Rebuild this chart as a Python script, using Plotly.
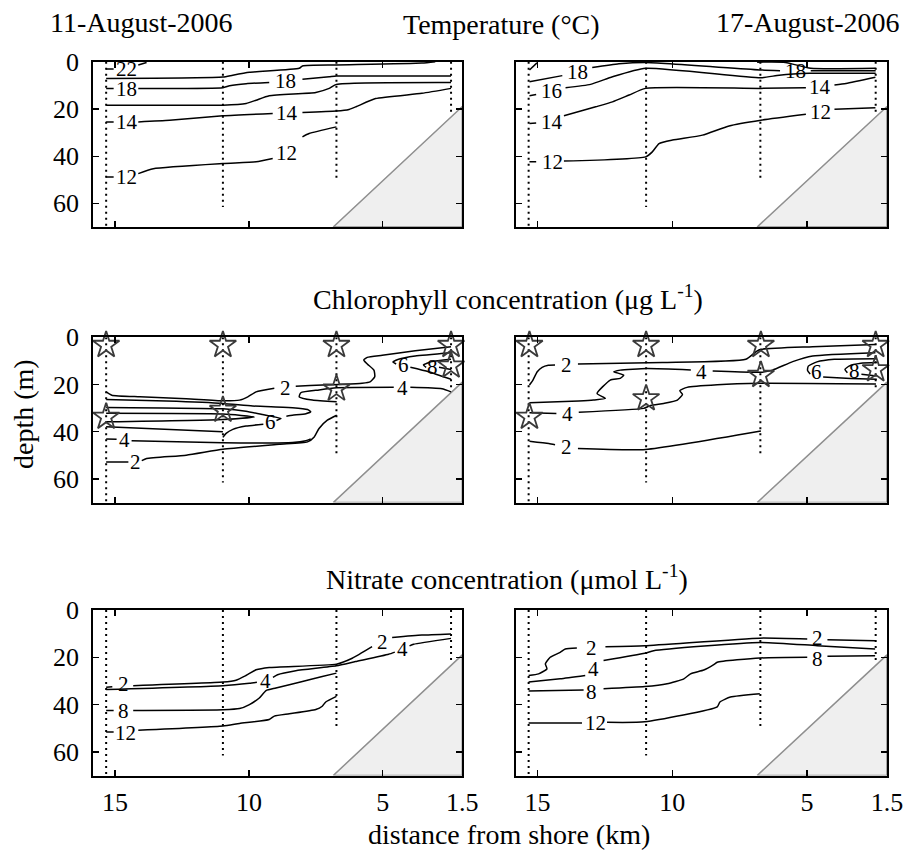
import plotly.graph_objects as go

# ---------------- axes / common data ----------------
XL, XR = 15.81, 2.03            # plotted km range (right edge is labelled 1.5)
x_tickvals = [15, 10, 5, XR]
x_ticktext = ["15", "10", "5", "1.5"]
y_tickvals = [0, 20, 40, 60]
y_ticktext = ["0", "20", "40", "60"]

stations = [15.33, 10.97, 6.73, 2.45]
station_max_depth = [71.5, 61.5, 49.5, 22.0]
bottom_km = [6.85, XR, XR, 6.85]
bottom_depth = [70, 19, 70, 70]

# ---------------- Temperature 11 Aug ----------------
t11_22_km = [15.33, 15.05, None, 14.13, 13.82]
t11_22_d = [3.1, 3.1, None, 1.4, 0.3]
t11_20_km = [15.33, 10.97, 10.6, 9.98, 8.12, 8.0, 6.73, 3.54, 3.04]
t11_20_d = [7.1, 6.5, 5.7, 4.5, 2.8, 1.8, 1.4, 0.6, 0.0]
t11_18_km = [15.33, 15.05, None, 14.13, 10.97, 10.72, 10.1, 9.24, None, 8.0, 7.0, 6.73, 2.45]
t11_18_d = [11.3, 11.3, None, 11.3, 11.0, 10.2, 9.3, 8.8, None, 7.4, 6.4, 6.1, 6.1]
t11_16_km = [15.33, 10.97, 10.1, 9.73, 9.24, 7.5, 7.0, 6.73, 2.45]
t11_16_d = [18.4, 18.4, 17.7, 16.3, 14.4, 13.0, 11.3, 9.6, 8.8]
t11_14_km = [15.33, 15.05, None, 14.13, 12.96, 10.97, 9.11, None, 8.0, 6.73, 6.26, 6.0, 5.27, 3.54, 2.45]
t11_14_d = [25.5, 25.5, None, 25.5, 24.8, 22.9, 21.9, None, 21.5, 20.9, 20.2, 19.1, 15.6, 13.4, 11.3]
t11_12_km = [15.33, 15.05, None, 14.13, 13.57, 10.97, 9.73, 9.11, None, 8.0, 7.75, 6.73]
t11_12_d = [48.8, 48.8, None, 47.4, 45.3, 43.1, 42.4, 41.0, None, 31.8, 30.4, 27.6]
t11_lab_km = [14.57, 14.57, 8.62, 14.57, 8.58, 14.57, 8.6]
t11_lab_d = [3.3, 11.6, 8.2, 25.5, 21.7, 48.8, 38.6]
t11_lab_t = ["22", "18", "18", "14", "14", "12", "12"]

# ---------------- Temperature 17 Aug ----------------
t17_20a_km = [15.3, 15.02]
t17_20a_d = [3.5, 0.5]
t17_20b_km = [6.85, 5.8, 4.86, 2.45]
t17_20b_d = [0.2, 0.3, 2.8, 2.8]
t17_18_km = [15.3, 14.08, None, 12.97, 11.98, 10.99, 6.71, 6.0, None, 4.86, 2.45]
t17_18_d = [8.5, 5.9, None, 2.5, 0.9, 0.3, 3.5, 3.8, None, 3.8, 3.8]
t17_16_km = [15.3, 15.05, None, 13.96, 13.03, 12.22, 10.99, 6.71, 6.03, 4.91, 2.45]
t17_16_d = [14.4, 13.9, None, 11.0, 9.6, 6.4, 2.8, 6.8, 5.7, 4.9, 4.9]
t17_14_km = [15.3, 15.05, None, 14.02, 12.84, 12.22, 11.6, 10.99, 6.71, 5.04, None, 3.98, 3.55, 2.46]
t17_14_d = [26.2, 26.0, None, 22.9, 19.1, 17.0, 14.1, 11.3, 11.3, 11.0, None, 9.9, 9.2, 6.6]
t17_12_km = [15.3, 15.05, None, 14.02, 10.99, 10.74, 10.49, 9.99, 8.88, 7.89, 6.71, 5.04, None, 3.98, 2.46]
t17_12_d = [42.4, 42.4, None, 42.1, 40.3, 38.2, 34.7, 33.2, 31.1, 27.2, 24.8, 22.3, None, 20.1, 19.5]
t17_lab_km = [13.5, 5.42, 14.5, 14.45, 4.5, 14.45, 4.5]
t17_lab_d = [4.3, 4.0, 12.3, 25.5, 10.6, 42.4, 21.5]
t17_lab_t = ["18", "18", "16", "14", "14", "12", "12"]

# ---------------- Chlorophyll 11 Aug ----------------
c11_2a_km = [15.33, 15.12, 14.07, 12.34, 10.97, 10.35, 10.04, 9.73, 9.05, None, 8.25, 5.77, 5.46,
             5.30, 5.33, 5.58, 5.71, 5.58, 5.02, 3.79, 2.45]
c11_2a_d = [23.1, 24.5, 25.2, 26.0, 26.9, 26.6, 25.2, 23.1, 21.6, None, 20.7, 19.5, 18.8,
            16.7, 13.9, 11.3, 9.6, 8.5, 7.6, 5.7, 4.0]
c11_4a_km = [15.33, 13.08, 10.97, 9.86, 8.37, 7.81, 7.69, 7.87, 8.37, 8.6]
c11_4a_d = [26.3, 27.0, 28.0, 29.1, 29.8, 30.6, 31.5, 32.4, 33.0, 33.4]
c11_6a_km = [15.33, 10.97, 10.11, 9.49, 8.80, 8.97, None, 9.46, 10.11, 10.60, 10.85, 10.97]
c11_6a_d = [29.7, 30.3, 31.3, 32.7, 34.4, 35.2, None, 36.8, 37.6, 39.0, 40.7, 42.4]
c11_8_km = [15.33, 10.97, 9.80, 10.97, 15.33]
c11_8_d = [32.2, 32.5, 33.7, 34.8, 35.8]
c11_6b_km = [15.33, 10.97]
c11_6b_d = [37.9, 40.0]
c11_4b_km = [15.33, 14.94, None, 14.38, 10.97, 8.37, 7.87, 7.69]
c11_4b_d = [43.1, 43.2, None, 43.8, 44.7, 44.6, 43.8, 43.0]
c11_2b_km = [15.33, 14.5, None, 14.0, 13.82, 12.34, 10.97, 8.87, 7.81, 7.56, 7.38, 7.07, 6.72]
c11_2b_d = [52.8, 52.8, None, 52.2, 51.3, 49.9, 47.4, 45.3, 44.3, 42.2, 38.6, 35.1, 33.0]
c11_4c_km = [6.72, 7.63, 8.12, 8.06, 7.38, 6.72, 4.59, None, 3.97, 2.79, 2.45]
c11_4c_d = [27.3, 26.6, 25.2, 23.5, 22.3, 21.4, 21.2, None, 21.2, 21.8, 23.1]
c11_6c_km = [2.45, 3.79, 4.41, 4.62, 4.50, None, 3.97, 3.29, 2.45]
c11_6c_d = [6.5, 7.9, 9.3, 10.5, 11.3, None, 12.7, 14.6, 17.8]
c11_8c_km = [2.45, 3.17, 3.48, 3.38, None, 2.90, 2.45]
c11_8c_d = [9.3, 10.3, 11.7, 12.7, None, 12.7, 13.6]
c11_lab_km = [8.64, 9.21, 14.66, 14.25, 4.28, 4.24, 3.15]
c11_lab_d = [21.4, 35.8, 43.6, 52.8, 21.4, 11.9, 12.5]
c11_lab_t = ["2", "6", "4", "2", "4", "6", "8"]
c11_star_km = [15.33, 10.97, 6.73, 2.45, 15.33, 10.97, 6.73, 2.45]
c11_star_d = [3.3, 3.3, 3.3, 3.3, 33.7, 30.8, 21.8, 12.0]

# ---------------- Chlorophyll 17 Aug ----------------
c17_2a_km = [15.3, 15.17, 15.01, 14.83, 14.6, 14.35, None, 13.5, 10.37, 7.27, 6.89, 6.71, 4.79, 2.46]
c17_2a_d = [20.2, 18.1, 14.6, 12.7, 11.8, 11.7, None, 11.3, 10.7, 9.3, 6.1, 5.1, 4.0, 3.0]
c17_4a_km = [15.3, 13.47, 12.92, 12.48, 12.79, 12.30, 11.93, 11.80, 12.17, 11.93, 10.94, 9.31, None,
             8.50, 6.71, 6.28, 5.53, 4.79, 2.46]
c17_4a_d = [27.7, 27.0, 26.6, 25.9, 23.8, 18.1, 17.4, 16.0, 14.6, 13.9, 13.2, 13.8, None,
            14.3, 14.8, 13.9, 10.3, 7.9, 6.5]
c17_4b_km = [15.3, 14.3, None, 13.47, 11.06, 10.81, 10.32, 9.81, 9.62, 9.72, 9.45, 8.33, 6.72, 2.44]
c17_4b_d = [32.0, 32.3, None, 31.7, 30.1, 28.9, 28.0, 26.6, 24.2, 22.6, 21.2, 20.1, 19.5, 19.8]
c17_6_km = [2.41, 3.99, 4.63, 4.95, 4.98, 4.88, None, 4.40, 3.38, 2.41]
c17_6_d = [9.05, 9.3, 10.4, 12.2, 14.0, 15.6, None, 16.8, 17.4, 17.8]
c17_8_km = [2.41, 3.0, 3.44, 3.59, 3.50, None, 2.98, 2.41]
c17_8_d = [10.7, 11.0, 12.2, 13.6, 15.0, None, 15.7, 16.4]
c17_2b_km = [15.3, 14.58, 14.35, None, 13.5, 10.99, 6.71]
c17_2b_d = [44.0, 45.0, 45.5, None, 47.1, 47.5, 39.7]
c17_lab_km = [13.93, 8.9, 13.9, 4.64, 3.25, 13.93]
c17_lab_d = [11.6, 14.6, 32.4, 14.9, 14.1, 46.4]
c17_lab_t = ["2", "4", "4", "6", "8", "2"]
c17_star_km = [15.3, 10.97, 6.71, 2.45, 15.3, 10.97, 6.71, 2.45]
c17_star_d = [3.3, 3.3, 3.3, 3.3, 33.7, 25.9, 16.0, 13.6]

# ---------------- Nitrate 11 Aug ----------------
n11_2_km = [15.33, 15.1, None, 14.32, 10.97, 10.48, 10.11, 9.73, 9.24, 6.73, 6.14, 5.40, None,
            4.65, 3.54, 2.45]
n11_2_d = [32.7, 32.5, None, 32.0, 30.5, 29.7, 27.7, 25.3, 24.3, 22.9, 20.4, 15.5, None,
           11.6, 10.6, 10.1]
n11_4_km = [15.33, 10.97, 9.98, 9.7, None, 9.1, 8.93, 8.25, 6.73, 6.02, 4.78, 4.55, None, 4.0, 3.85, 2.45]
n11_4_d = [33.6, 32.0, 31.0, 30.6, None, 28.5, 27.4, 25.7, 23.6, 21.8, 18.7, 17.8, None, 15.2, 14.5, 12.0]
n11_8_km = [15.33, 15.05, None, 14.32, 10.97, 10.35, 9.98, 9.61, 9.36, 8.99, 8.0, 7.26, 6.73]
n11_8_d = [42.5, 42.5, None, 42.5, 42.2, 41.7, 40.0, 37.2, 34.1, 33.0, 30.2, 28.1, 26.7]
n11_12_km = [15.33, 15.05, None, 14.13, 10.97, 10.35, 9.24, 9.05, 8.49, 7.50, 7.26, 7.13, 6.73]
n11_12_d = [51.6, 51.6, None, 50.9, 49.1, 48.0, 46.3, 44.9, 43.9, 42.1, 40.7, 38.9, 36.5]
n11_lab_km = [14.69, 5.02, 9.39, 4.28, 14.69, 14.6]
n11_lab_d = [31.5, 13.6, 29.9, 16.5, 42.8, 51.9]
n11_lab_t = ["2", "2", "4", "4", "8", "12"]

# ---------------- Nitrate 17 Aug ----------------
n17_2_km = [15.33, 14.96, 14.65, 14.71, 14.53, 14.16, 13.97, 13.54, None, 12.48, 11.02, 6.75, 4.99, None,
            4.24, 2.47]
n17_2_d = [27.7, 27.0, 24.9, 22.8, 20.0, 17.9, 16.5, 16.1, None, 15.5, 15.1, 11.9, 12.3, None,
           12.6, 13.0]
n17_4_km = [15.33, 14.16, 13.23, None, 12.55, 11.02, 10.69, 6.75, 4.62, 2.47]
n17_4_d = [30.5, 29.1, 27.7, None, 21.4, 18.3, 17.2, 13.7, 15.1, 16.5]
n17_8_km = [15.33, 13.29, None, 12.55, 11.02, 10.19, 9.57, 9.32, 8.83, 8.46, 8.33, 6.75, 4.99, None,
            4.24, 2.47]
n17_8_d = [34.3, 33.8, None, 33.3, 32.4, 31.2, 29.1, 27.0, 25.4, 23.1, 22.1, 20.3, 20.0, None,
           19.6, 19.3]
n17_12_km = [15.33, 13.35, None, 12.42, 11.02, 8.33, 8.23, 7.84, 6.75]
n17_12_d = [47.8, 47.8, None, 47.5, 47.3, 41.0, 38.9, 36.8, 35.4]
n17_lab_km = [12.98, 4.62, 12.94, 12.98, 4.62, 12.86]
n17_lab_d = [16.1, 11.9, 25.0, 34.5, 20.6, 47.8]
n17_lab_t = ["2", "2", "4", "8", "8", "12"]

# ---------------- figure ----------------
W, H = 908, 854
FONT = "Liberation Serif, Times New Roman, serif"
col_px = [(93.3, 462.3), (515.7, 887.0)]
row_px = [(61.7, 227.0), (337.3, 502.6), (610.0, 775.5)]

panels = [
    dict(lines=[(t11_22_km, t11_22_d), (t11_20_km, t11_20_d), (t11_18_km, t11_18_d),
                (t11_16_km, t11_16_d), (t11_14_km, t11_14_d), (t11_12_km, t11_12_d)],
         labels=(t11_lab_km, t11_lab_d, t11_lab_t), stars=None),
    dict(lines=[(t17_20a_km, t17_20a_d), (t17_20b_km, t17_20b_d), (t17_18_km, t17_18_d),
                (t17_16_km, t17_16_d), (t17_14_km, t17_14_d), (t17_12_km, t17_12_d)],
         labels=(t17_lab_km, t17_lab_d, t17_lab_t), stars=None),
    dict(lines=[(c11_2a_km, c11_2a_d), (c11_4a_km, c11_4a_d), (c11_6a_km, c11_6a_d),
                (c11_8_km, c11_8_d), (c11_6b_km, c11_6b_d), (c11_4b_km, c11_4b_d),
                (c11_2b_km, c11_2b_d), (c11_4c_km, c11_4c_d), (c11_6c_km, c11_6c_d),
                (c11_8c_km, c11_8c_d)],
         labels=(c11_lab_km, c11_lab_d, c11_lab_t), stars=(c11_star_km, c11_star_d)),
    dict(lines=[(c17_2a_km, c17_2a_d), (c17_4a_km, c17_4a_d), (c17_4b_km, c17_4b_d),
                (c17_6_km, c17_6_d), (c17_8_km, c17_8_d), (c17_2b_km, c17_2b_d)],
         labels=(c17_lab_km, c17_lab_d, c17_lab_t), stars=(c17_star_km, c17_star_d)),
    dict(lines=[(n11_2_km, n11_2_d), (n11_4_km, n11_4_d), (n11_8_km, n11_8_d), (n11_12_km, n11_12_d)],
         labels=(n11_lab_km, n11_lab_d, n11_lab_t), stars=None),
    dict(lines=[(n17_2_km, n17_2_d), (n17_4_km, n17_4_d), (n17_8_km, n17_8_d), (n17_12_km, n17_12_d)],
         labels=(n17_lab_km, n17_lab_d, n17_lab_t), stars=None),
]

fig = go.Figure()
annotations = []
layout_axes = {}

for i, p in enumerate(panels):
    n = i + 1
    r, c = divmod(i, 2)
    xs = "x" if n == 1 else f"x{n}"
    ys = "y" if n == 1 else f"y{n}"
    xa = "xaxis" if n == 1 else f"xaxis{n}"
    ya = "yaxis" if n == 1 else f"yaxis{n}"
    x0, x1 = col_px[c]
    y0, y1 = row_px[r]
    layout_axes[xa] = dict(
        domain=[x0 / W, x1 / W], anchor=ys, range=[XL, XR], autorange=False,
        tickmode="array", tickvals=x_tickvals, ticktext=x_ticktext,
        showticklabels=(r == 2), ticks="inside", ticklen=6, tickwidth=1.3, tickcolor="black",
        showline=True, linewidth=2, linecolor="black", mirror="ticks",
        showgrid=False, zeroline=False, ticklabelstandoff=2,
        tickfont=dict(family=FONT, size=26, color="black"), automargin=False)
    layout_axes[ya] = dict(
        domain=[1 - y1 / H, 1 - y0 / H], anchor=xs, range=[70, 0], autorange=False,
        tickmode="array", tickvals=y_tickvals, ticktext=y_ticktext,
        showticklabels=(c == 0), ticks="inside", ticklen=6, tickwidth=1.3, tickcolor="black",
        showline=True, linewidth=2, linecolor="black", mirror="ticks",
        showgrid=False, zeroline=False, ticklabelstandoff=7,
        tickfont=dict(family=FONT, size=26, color="black"), automargin=False)

    # sea floor
    fig.add_trace(go.Scatter(x=bottom_km, y=bottom_depth, xaxis=xs, yaxis=ys, mode="lines",
                             fill="toself", fillcolor="#efefef",
                             line=dict(color="#8f8f8f", width=1.5), hoverinfo="skip"))
    # station casts
    sx, sy = [], []
    for s, dmax in zip(stations, station_max_depth):
        sx += [s, s, None]
        sy += [0, dmax, None]
    fig.add_trace(go.Scatter(x=sx, y=sy, xaxis=xs, yaxis=ys, mode="lines", cliponaxis=False,
                             line=dict(color="black", width=2, dash="2px,4px"), hoverinfo="skip"))
    # contour lines
    for lx, ly in p["lines"]:
        fig.add_trace(go.Scatter(x=lx, y=ly, xaxis=xs, yaxis=ys, mode="lines",
                                 line=dict(color="black", width=1.5, shape="spline", smoothing=0.5),
                                 connectgaps=False, hoverinfo="skip"))
    # sample stars
    if p["stars"] is not None:
        fig.add_trace(go.Scatter(x=p["stars"][0], y=p["stars"][1], xaxis=xs, yaxis=ys, mode="markers",
                                 cliponaxis=False,
                                 marker=dict(symbol="star-open", size=20, color="#3a3a3a",
                                             line=dict(width=1.8, color="#3a3a3a")),
                                 hoverinfo="skip"))
    # contour labels
    for lxv, lyv, lt in zip(*p["labels"]):
        annotations.append(dict(x=lxv, y=lyv, xref=xs, yref=ys, text=lt, showarrow=False,
                                xanchor="center", yanchor="middle",
                                font=dict(family=FONT, size=21, color="black")))

titles = [
    ("11-August-2006", 141, 22, 0),
    ("Temperature (°C)", 502, 24, 0),
    ("17-August-2006", 808, 22, 0),
    ("Chlorophyll concentration (μg L<sup>-1</sup>)", 508, 298, 0),
    ("Nitrate concentration (μmol L<sup>-1</sup>)", 507, 577, 0),
    ("depth (m)", 23, 414, -90),
    ("distance from shore (km)", 509, 834, 0),
]
for t, tx, ty, ang in titles:
    annotations.append(dict(x=tx / W, y=1 - ty / H, xref="paper", yref="paper", text=t,
                            showarrow=False, xanchor="center", yanchor="middle", textangle=ang,
                            font=dict(family=FONT, size=28, color="black")))

fig.update_layout(width=W, height=H, margin=dict(l=0, r=0, t=0, b=0),
                  paper_bgcolor="white", plot_bgcolor="white", showlegend=False,
                  hovermode=False, annotations=annotations, **layout_axes)

fig.write_html("out.html", config={"displayModeBar": False, "staticPlot": True},
               post_script="document.body.style.margin='0';document.body.style.padding='0';")
